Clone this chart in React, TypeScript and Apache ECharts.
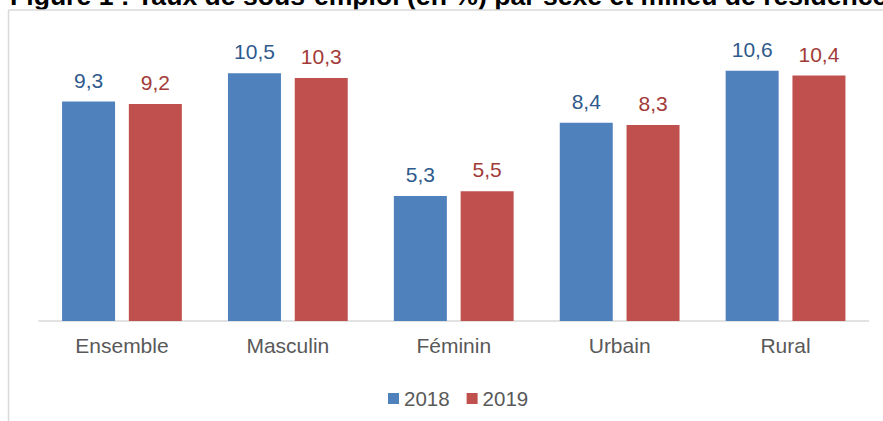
import React, { useEffect, useRef } from "react";
import * as echarts from "echarts";

const categories = ["Ensemble", "Masculin", "Féminin", "Urbain", "Rural"];
const values2018 = [9.3, 10.5, 5.3, 8.4, 10.6];
const values2019 = [9.2, 10.3, 5.5, 8.3, 10.4];
const seriesNames = ["2018", "2019"];
const title = "Figure 1 : Taux de sous-emploi (en %) par sexe et milieu de résidence";

const fmt = (v: number) => v.toFixed(1).replace(".", ",");

export default function App() {
  const ref = useRef<HTMLDivElement>(null);
  useEffect(() => {
    if (!ref.current) return;
    const chart = echarts.init(ref.current, undefined, { renderer: "svg" });
    const font = "Arial, 'Liberation Sans', sans-serif";
    chart.setOption({
      animation: false,
      textStyle: { fontFamily: font },
      graphic: [
        {
          type: "text",
          x: 10,
          y: -4.5,
          style: {
            text: title,
            font: `bold 26.6px ${font}`,
            fill: "#000",
            verticalAlign: "middle",
          },
        },
        {
          type: "line",
          shape: { x1: 8.5, y1: 10, x2: 883, y2: 10 },
          style: { stroke: "#d9d9d9", lineWidth: 1.5 },
        },
        {
          type: "line",
          shape: { x1: 8.5, y1: 10, x2: 8.5, y2: 421 },
          style: { stroke: "#d9d9d9", lineWidth: 1.5 },
        },
      ],
      legend: {
        data: seriesNames,
        left: 383,
        top: 383,
        icon: "rect",
        itemWidth: 11,
        itemHeight: 11,
        itemGap: 17,
        textStyle: { fontSize: 20.5, color: "#595959", fontFamily: font },
      },
      grid: { left: 39, right: 14.5, top: 37.8, bottom: 100, containLabel: false },
      xAxis: {
        type: "category",
        data: categories,
        axisLine: { lineStyle: { color: "#d9d9d9", width: 1.5 } },
        axisTick: { show: false },
        axisLabel: { fontSize: 21, color: "#595959", margin: 14, fontFamily: font },
      },
      yAxis: {
        type: "value",
        min: 0,
        max: 12,
        show: false,
        splitLine: { show: false },
      },
      series: [
        {
          name: seriesNames[0],
          type: "bar",
          data: values2018,
          barWidth: 53,
          barGap: "26%",
          itemStyle: { color: "#4F81BD" },
          label: {
            show: true,
            position: "top",
            distance: 11,
            formatter: (p: any) => fmt(p.value),
            fontSize: 21,
            color: "#2F5A8C",
            fontFamily: font,
          },
        },
        {
          name: seriesNames[1],
          type: "bar",
          data: values2019,
          barWidth: 53,
          barGap: "26%",
          itemStyle: { color: "#C0504D" },
          label: {
            show: true,
            position: "top",
            distance: 11,
            formatter: (p: any) => fmt(p.value),
            fontSize: 21,
            color: "#A23B38",
            fontFamily: font,
          },
        },
      ],
    });
    return () => chart.dispose();
  }, []);
  return (
    <div
      ref={ref}
      style={{ position: "fixed", left: 0, top: 0, width: 883, height: 421, background: "#fff" }}
    />
  );
}
